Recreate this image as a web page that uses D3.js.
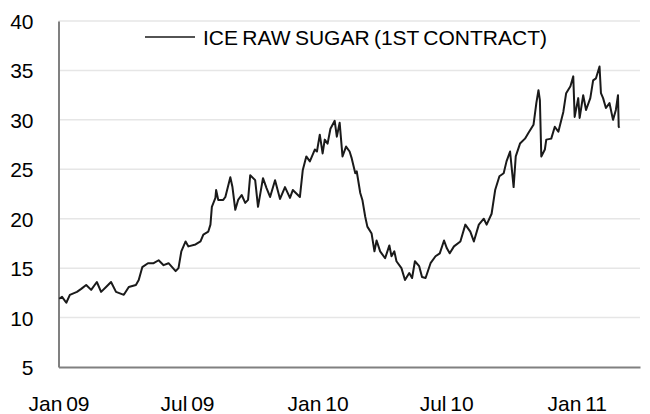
<!doctype html>
<html>
  <head>
    <meta charset="utf-8">
    <title>ICE Raw Sugar</title>
    <script src="https://cdnjs.cloudflare.com/ajax/libs/d3/7.8.5/d3.min.js"></script>
    <style>
      body { margin: 0; background: #fff; }
      text { font-family: "Liberation Sans", Arial, sans-serif; fill: #000; }
    </style>
  </head>
  <body>
    <div id="chart"></div>
    <script>
      // values
      const seriesName = "ICE RAW SUGAR (1ST CONTRACT)";
      const dates = [
        "2009-01-02","2009-01-06","2009-01-12","2009-01-17","2009-01-27","2009-02-02","2009-02-09","2009-02-16",
        "2009-02-24","2009-03-02","2009-03-09","2009-03-16","2009-03-23","2009-04-03","2009-04-10","2009-04-20",
        "2009-04-24","2009-04-29","2009-05-07","2009-05-15","2009-05-22","2009-05-29","2009-06-05","2009-06-15",
        "2009-06-19","2009-06-23","2009-06-29","2009-07-03","2009-07-13","2009-07-20","2009-07-24","2009-07-31",
        "2009-08-03","2009-08-05","2009-08-10","2009-08-11","2009-08-14","2009-08-21","2009-08-24","2009-08-31",
        "2009-09-03","2009-09-07","2009-09-11","2009-09-16","2009-09-21","2009-09-25","2009-09-28","2009-10-05",
        "2009-10-09","2009-10-16","2009-10-21","2009-10-26","2009-11-02","2009-11-09","2009-11-16","2009-11-23",
        "2009-11-27","2009-12-07","2009-12-11","2009-12-16","2009-12-21","2009-12-28","2009-12-31","2010-01-04",
        "2010-01-08","2010-01-11","2010-01-15","2010-01-19","2010-01-25","2010-01-28","2010-02-01","2010-02-05",
        "2010-02-10","2010-02-15","2010-02-18","2010-02-23","2010-02-25","2010-03-02","2010-03-05","2010-03-09",
        "2010-03-12","2010-03-18","2010-03-22","2010-03-25","2010-03-30","2010-04-06","2010-04-12","2010-04-15",
        "2010-04-19","2010-04-22","2010-04-29","2010-05-04","2010-05-10","2010-05-14","2010-05-18","2010-05-24",
        "2010-05-28","2010-06-02","2010-06-09","2010-06-16","2010-06-22","2010-06-28","2010-07-02","2010-07-06",
        "2010-07-12","2010-07-21","2010-07-28","2010-08-04","2010-08-09","2010-08-16","2010-08-23","2010-08-27",
        "2010-09-03","2010-09-08","2010-09-14","2010-09-20","2010-09-24","2010-09-29","2010-10-04","2010-10-07",
        "2010-10-13","2010-10-20","2010-10-25","2010-11-01","2010-11-05","2010-11-08","2010-11-10","2010-11-12",
        "2010-11-17","2010-11-19","2010-11-26","2010-12-01","2010-12-06","2010-12-13","2010-12-17","2010-12-23",
        "2010-12-27","2010-12-29","2011-01-03","2011-01-05","2011-01-10","2011-01-14","2011-01-20","2011-01-24",
        "2011-01-28","2011-02-02","2011-02-04","2011-02-07","2011-02-11","2011-02-16","2011-02-21","2011-02-25",
        "2011-02-28","2011-03-01","2011-03-02"
      ];
      const prices = [
        11.9,12.1,11.5,12.3,12.6,12.9,13.3,12.8,
        13.6,12.6,13.1,13.6,12.6,12.3,13.1,13.3,
        13.8,15.1,15.5,15.5,15.8,15.3,15.5,14.7,
        15.0,16.7,17.7,17.2,17.4,17.7,18.4,18.7,
        19.4,21.2,22.1,22.9,21.9,21.9,22.2,24.2,
        23.2,20.9,21.9,22.4,21.6,21.9,24.4,23.9,
        21.2,24.1,23.1,22.2,23.9,22.0,23.2,22.1,
        22.9,22.2,24.9,26.3,25.8,27.0,26.8,28.5,
        26.6,28.0,27.6,29.1,29.9,28.3,29.7,26.3,
        27.3,26.8,26.1,24.6,24.8,22.6,21.9,20.2,
        19.2,18.5,16.7,17.8,16.7,16.0,17.3,16.2,
        16.7,15.7,15.0,13.8,14.5,14.0,15.7,15.2,
        14.1,14.0,15.5,16.2,16.5,17.8,17.0,16.5,
        17.2,17.7,19.4,18.7,17.7,19.4,20.0,19.4,
        20.5,22.9,24.3,24.6,25.8,26.8,23.2,26.3,
        27.6,28.1,28.7,29.5,31.7,33.0,32.0,26.3,
        27.0,28.0,28.1,29.3,28.8,30.8,32.7,33.4,
        34.4,30.3,32.2,30.2,32.5,31.0,32.2,34.0,
        34.2,35.4,32.7,32.2,31.2,31.7,30.0,31.0,
        32.5,29.3,29.2
      ];
      const yTicks = [5, 10, 15, 20, 25, 30, 35, 40];
      const xTicks = ["2009-01-01", "2009-07-01", "2010-01-01", "2010-07-01", "2011-01-01"];
      const xTickLabels = ["Jan 09", "Jul 09", "Jan 10", "Jul 10", "Jan 11"];

      const parse = d3.timeParse("%Y-%m-%d");
      const data = dates.map((d, i) => ({ date: parse(d), value: prices[i] }));

      const width = 650, height = 414;
      const plot = { left: 58.5, right: 640, top: 21, bottom: 367 };

      const svg = d3.select("#chart").append("svg")
        .attr("width", width)
        .attr("height", height);

      const x = d3.scaleTime()
        .domain([parse("2009-01-01"), parse("2011-03-31")])
        .range([plot.left, plot.right]);
      const y = d3.scaleLinear()
        .domain([5, 40])
        .range([plot.bottom, plot.top]);

      // gridlines
      svg.append("g")
        .selectAll("line")
        .data(yTicks.filter(t => t > 5))
        .join("line")
        .attr("x1", plot.left)
        .attr("x2", plot.right)
        .attr("y1", d => y(d))
        .attr("y2", d => y(d))
        .attr("stroke", "#e6e6e6")
        .attr("stroke-width", 1.5);

      // y axis
      const yAxis = svg.append("g")
        .attr("transform", `translate(${plot.left},0)`)
        .call(d3.axisLeft(y).tickValues(yTicks).tickSize(0).tickPadding(25));
      yAxis.select(".domain").attr("stroke", "#808080").attr("stroke-width", 2);
      yAxis.selectAll("text")
        .style("font-size", "21px")
        .attr("dy", "0.36em");

      // x axis
      const xAxis = svg.append("g")
        .attr("transform", `translate(0,${plot.bottom})`)
        .call(d3.axisBottom(x)
          .tickValues(xTicks.map(parse))
          .tickFormat((d, i) => xTickLabels[i])
          .tickSize(0)
          .tickPadding(29));
      xAxis.select(".domain").attr("stroke", "#808080").attr("stroke-width", 2);
      xAxis.selectAll("text")
        .style("font-size", "21px")
        .style("word-spacing", "-2px")
        .attr("dy", "0.71em");

      // the series
      const line = d3.line()
        .x(d => x(d.date))
        .y(d => y(d.value));
      svg.append("path")
        .datum(data)
        .attr("fill", "none")
        .attr("stroke", "#1a1a1a")
        .attr("stroke-width", 2)
        .attr("stroke-linejoin", "round")
        .attr("d", line);

      // legend
      const legend = svg.append("g").attr("transform", "translate(145,37)");
      legend.append("line")
        .attr("x1", 0).attr("x2", 50)
        .attr("stroke", "#1a1a1a")
        .attr("stroke-width", 1.3);
      legend.append("text")
        .attr("x", 58)
        .attr("y", 7.5)
        .style("font-size", "21px")
        .style("word-spacing", "-1.5px")
        .text(seriesName);
    </script>
  </body>
</html>
